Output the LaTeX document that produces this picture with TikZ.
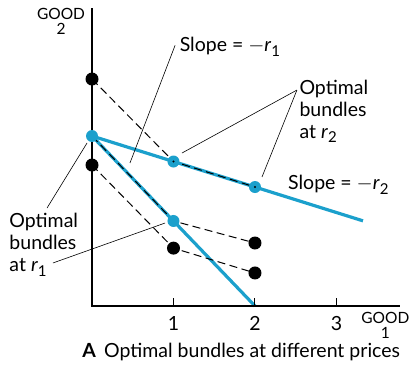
\documentclass[tikz,border=0pt]{standalone}
\usepackage{fontspec}
\setmainfont{Lato}
\usetikzlibrary{calc}

\definecolor{budgetblue}{RGB}{27,160,204}
\newcommand{\rate}[1]{\textit{r}\raisebox{-0.45ex}{\fontsize{15}{15}\selectfont #1}}

\begin{document}
\begin{tikzpicture}[x=81.5pt, y=81.5pt, thick,
    txt/.style={font=\fontsize{19.5}{22}\selectfont, inner sep=1pt},
    goodlbl/.style={font=\fontsize{15.5}{15}\selectfont, align=center, inner sep=0pt},
    leader/.style={black, line width=0.6pt},
    budget/.style={budgetblue, line width=3.2pt},
    offer/.style={black, line width=1pt, dash pattern=on 8pt off 4.5pt},
    bdot/.style={fill=black},
    cdot/.style={fill=budgetblue}]
  \useasboundingbox (-1.129,-0.748) rectangle (3.890,3.755);
  % data points
  \coordinate (O) at (0,0);
  \coordinate (A0) at (0,2.785);
  \coordinate (B0) at (0,2.086);
  \coordinate (C0) at (0,1.73);
  \coordinate (B1) at (1,1.773);
  \coordinate (B2) at (2,1.46);
  \coordinate (D1) at (1,1.043);
  \coordinate (E1) at (1,0.71);
  \coordinate (F2) at (2,0.773);
  \coordinate (G2) at (2,0.405);
  \coordinate (R1) at (2,0);
  \coordinate (R2) at (3.325,1.045);
  % budget lines
  \draw[budget] (B0)--(R2);
  \draw[budget] (B0)--(R1);
  \draw[offer] (A0)--(B1)--(B2);
  \draw[offer] (B0)--(D1)--(F2);
  \draw[offer] (C0)--(E1)--(G2);
  % axes
  \draw[line width=2.2pt] (0,3.656)--(O)--(3.78,0);
  \foreach \x in {1,2,3} {
    \draw[line width=1pt] (\x,0)--(\x,0.1);
    \node[txt] (t\x) at (\x,-0.21) {\x};
  }
  \node[goodlbl] (good2) at (-0.38,3.49) {GOOD\\2};
  \node[goodlbl] (good1) at (3.6,-0.24) {GOOD\\1};
  % dots
  \foreach \pt in {A0,C0,E1,F2,G2} \fill[bdot] (\pt) circle (6.5pt);
  \foreach \pt in {B0,B1,B2,D1} \fill[cdot] (\pt) circle (6pt);
  \foreach \pt in {B1,B2} \fill (\pt) circle (1.2pt);
  % labels
  \node[txt, anchor=west] (slopeA) at (1.06,3.18) {Slope = $-$\rate{1}};
  \node[txt, anchor=west] (slopeB) at (2.39,1.485) {Slope = $-$\rate{2}};
  \node[txt, anchor=west, align=left] (optB) at (2.53,2.39) {Optimal\\bundles\\at \rate{2}};
  \node[txt, anchor=west, align=left] (optA) at (-1.03,0.748) {Optimal\\bundles\\at \rate{1}};
  \node[txt] (caption) at (1.83,-0.564) {\textbf{A}\, Optimal bundles at different prices};
  % leader lines
  \coordinate (sA) at (1.02,3.20);
  \coordinate (oB) at (2.515,2.65);
  \coordinate (oA1) at (-0.552,1.202);
  \coordinate (oA2) at (-0.479,0.528);
  \draw[leader] (sA)--(0.466,1.755);
  \draw[leader] (oB)--(1.104,1.877);
  \draw[leader] (oB)--(2.086,1.583);
  \draw[leader] (oA1)--(-0.061,2.0);
  \draw[leader] (oA2)--(0.896,1.018);
\end{tikzpicture}
\end{document}
